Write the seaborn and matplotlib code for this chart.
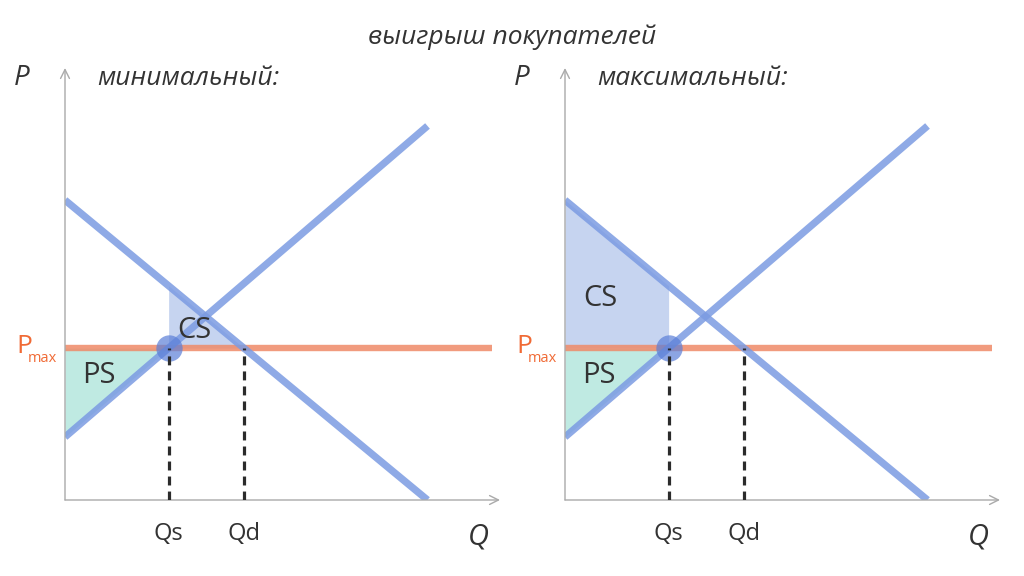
import numpy as np
import pandas as pd
import matplotlib
matplotlib.use('Agg')
import matplotlib.pyplot as plt
import seaborn as sns

# Data
q_line = [0, 10]
demand_p = [8.33, 0.0]
supply_p = [1.75, 10.39]
p_max = 4.22
q_max_line = 11.78
panel_titles = ['минимальный:', 'максимальный:']
suptitle = 'выигрыш покупателей'

sns.set_theme(style='white')
plt.rcParams['font.family'] = ['Open Sans', 'DejaVu Sans']

# Quantities where the price ceiling hits supply and demand
qs = np.interp(p_max, supply_p, q_line)
qd = np.interp(p_max, demand_p[::-1], q_line[::-1])

curves = pd.DataFrame({
    'q': q_line + q_line,
    'p': demand_p + supply_p,
    'curve': ['D', 'D', 'S', 'S'],
})
ceiling = pd.DataFrame({'q': [0, q_max_line], 'p': [p_max, p_max]})

blue = '#7b9be2'
cs_fill = '#c6d4f0'
ps_fill = '#bfeae2'
orange = '#ef8a68'
label_orange = '#f06a35'
text_col = '#333333'

fig = plt.figure(figsize=(10.24, 5.76), dpi=100)


def px_axes(left, top, right, bottom):
    return fig.add_axes([left / 1024, 1 - bottom / 576,
                         (right - left) / 1024, (bottom - top) / 576])


for i, title in enumerate(panel_titles):
    off = 500 * i
    ax = px_axes(65 + off, 68, 500 + off, 500)
    ax.set_xlim(0, 12)
    ax.set_ylim(0, 12)
    ax.axis('off')

    def demand(q):
        return np.interp(q, q_line, demand_p)

    def supply(q):
        return np.interp(q, q_line, supply_p)

    # surplus areas
    qq = np.linspace(0, qs, 50)
    ax.fill_between(qq, supply(qq), p_max, color=ps_fill, lw=0, zorder=1)
    if i == 0:
        qq = np.linspace(qs, qd, 50)
        cs_x, cs_y = 3.56, 4.72
    else:
        qq = np.linspace(0, qs, 50)
        cs_x, cs_y = 0.97, 5.61
    ax.fill_between(qq, p_max, demand(qq), color=cs_fill, lw=0, zorder=1)

    # price ceiling and curves
    sns.lineplot(data=ceiling, x='q', y='p', ax=ax, color=orange,
                 linewidth=4.6, alpha=0.85, zorder=2, solid_capstyle='butt')
    sns.lineplot(data=curves, x='q', y='p', hue='curve', ax=ax,
                 palette={'D': blue, 'S': blue}, linewidth=5.2, alpha=0.85,
                 legend=False, zorder=3, solid_capstyle='butt')

    ax.scatter([qs], [p_max], s=360, color='#5b7fd8', alpha=0.7,
               linewidths=0, zorder=4)
    for qv in (qs, qd):
        ax.plot([qv, qv], [0, p_max], color='#2b2b2b', lw=2.3,
                ls=(0, (2.8, 1.9)), zorder=5)

    # axes with arrows
    ax.annotate('', xy=(1, 0), xytext=(0, 0), xycoords='axes fraction',
                arrowprops=dict(arrowstyle='->', color='#aaaaaa', lw=1,
                                mutation_scale=16, shrinkA=0, shrinkB=0))
    ax.annotate('', xy=(0, 1), xytext=(0, 0), xycoords='axes fraction',
                arrowprops=dict(arrowstyle='->', color='#aaaaaa', lw=1,
                                mutation_scale=16, shrinkA=0, shrinkB=0))

    ax.text(cs_x, cs_y, 'CS', fontsize=21, color=text_col, ha='center',
            va='center', zorder=6)
    ax.text(0.93, 3.45, 'PS', fontsize=21, color=text_col, ha='center',
            va='center', zorder=6)

    ax.text(qs, -0.95, 'Qs', fontsize=17, color=text_col, ha='center',
            va='center', clip_on=False)
    ax.text(qd, -0.95, 'Qd', fontsize=17, color=text_col, ha='center',
            va='center', clip_on=False)
    ax.text(11.39, -1.03, 'Q', fontsize=21, style='italic', color=text_col,
            ha='center', va='center', clip_on=False)

    ax.text(-1.13, p_max + 0.05, 'P', fontsize=19, color=label_orange,
            ha='center', va='center', clip_on=False)
    ax.text(-0.62, p_max - 0.28, 'max', fontsize=10.5, color=label_orange,
            ha='center', va='center', clip_on=False)

    ax.text(-1.19, 11.72, 'P', fontsize=20, style='italic', color=text_col,
            ha='center', va='center', clip_on=False)
    ax.text(0.88, 11.72, title, fontsize=19, style='italic', color=text_col,
            ha='left', va='center', clip_on=False)

fig.text(0.5, 1 - 37 / 576, suptitle, fontsize=19, style='italic',
         color=text_col, ha='center', va='center')

fig.savefig('out.png', dpi=100)
